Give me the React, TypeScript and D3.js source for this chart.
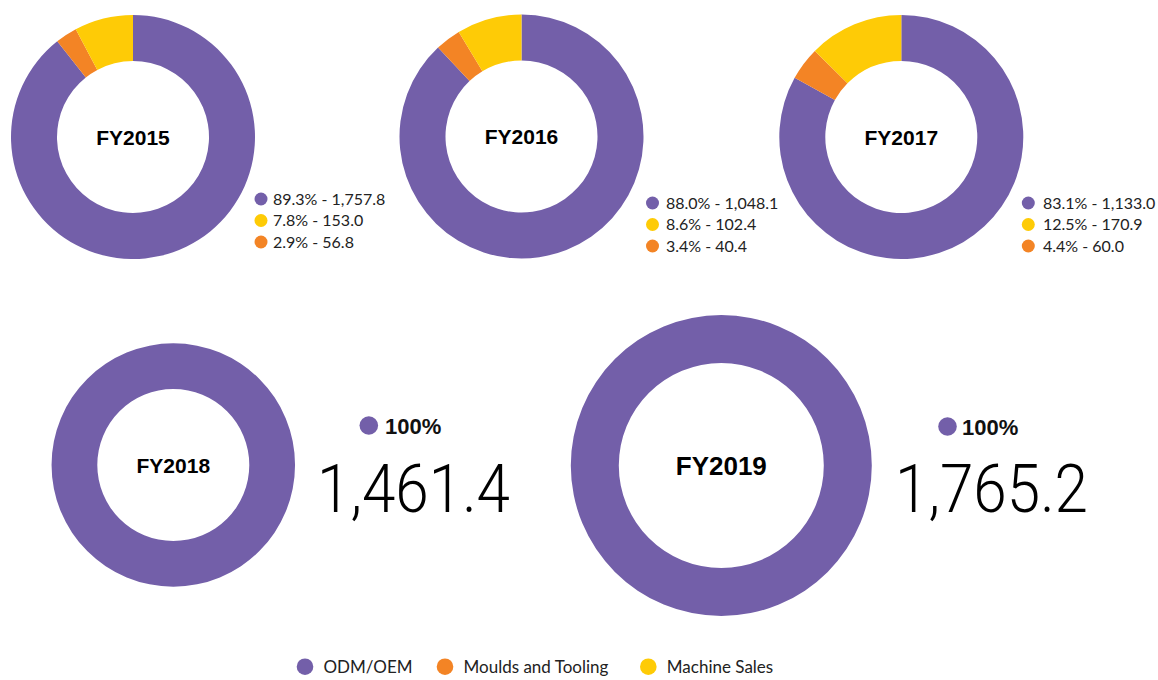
import React from "react";
import * as d3 from "d3";

const segments = ["ODM/OEM", "Moulds and Tooling", "Machine Sales"];
const segmentColors = ["#735FA9", "#F38425", "#FECB06"];

const years = ["FY2015", "FY2016", "FY2017", "FY2018", "FY2019"];
const odmValues = [1757.8, 1048.1, 1133.0, 1461.4, 1765.2];
const mouldsValues = [56.8, 40.4, 60.0, 0, 0];
const machineValues = [153.0, 102.4, 170.9, 0, 0];
const odmPct = ["89.3%", "88.0%", "83.1%", "100%", "100%"];
const mouldsPct = ["2.9%", "3.4%", "4.4%", "", ""];
const machinePct = ["7.8%", "8.6%", "12.5%", "", ""];

// layout (not data)
const layout = [
  { cx: 133, cy: 137, ro: 122, ri: 76, fs: 21, lx: 261, ltx: 273, ly: 199 },
  { cx: 521.5, cy: 136.5, ro: 122, ri: 76, fs: 21, lx: 652.5, ltx: 666, ly: 203 },
  { cx: 901.3, cy: 137, ro: 122, ri: 76, fs: 21, lx: 1028.3, ltx: 1043, ly: 203 },
  { cx: 173.3, cy: 465, ro: 121.7, ri: 76, fs: 21, bx: 368.8, by: 425.5, btx: 385, bigx: 317, bigw: 193 },
  { cx: 721.3, cy: 465.5, ro: 150.5, ri: 102.5, fs: 26, bx: 947.5, by: 426.5, btx: 962, bigx: 895, bigw: 193 },
];

const fmt = d3.format(",.1f");

export default function App() {
  const pie = d3.pie<number>().sort(null).value((d) => d);
  return (
    <svg
      width={1158}
      height={680}
      style={{ position: "absolute", left: 0, top: 0, background: "#fff" }}
      fontFamily="Lato, 'Noto Sans', sans-serif"
    >
      {years.map((y, i) => {
        const L = layout[i];
        const vals = [odmValues[i], mouldsValues[i], machineValues[i]];
        const arcs = pie(vals);
        const arc = d3.arc<d3.PieArcDatum<number>>().innerRadius(L.ri).outerRadius(L.ro);
        return (
          <g key={y}>
            <g transform={`translate(${L.cx},${L.cy})`}>
              {arcs.map((a, j) =>
                a.value > 0 ? <path key={j} d={arc(a) || ""} fill={segmentColors[j]} /> : null
              )}
              <text
                textAnchor="middle"
                y={L.fs * 0.36}
                fontFamily="'Liberation Sans', Arial, sans-serif"
                fontWeight="bold"
                fontSize={L.fs}
                fill="#000"
              >
                {y}
              </text>
            </g>
            {L.lx !== undefined && (
              <g>
                {[
                  [0, odmPct[i], odmValues[i]],
                  [2, machinePct[i], machineValues[i]],
                  [1, mouldsPct[i], mouldsValues[i]],
                ].map((r, k) => (
                  <g key={k}>
                    <circle cx={L.lx} cy={L.ly + k * 21.5} r={6.5} fill={segmentColors[r[0] as number]} />
                    <text x={L.ltx} y={L.ly + k * 21.5 + 5.5} fontSize={16} fill="#222">
                      {`${r[1]} - ${fmt(r[2] as number)}`}
                    </text>
                  </g>
                ))}
              </g>
            )}
            {L.bx !== undefined && (
              <g>
                <circle cx={L.bx} cy={L.by} r={9.3} fill={segmentColors[0]} />
                <text
                  x={L.btx}
                  y={L.by + 8}
                  fontSize={22}
                  fontWeight="bold"
                  fontFamily="'Liberation Sans', Arial, sans-serif"
                  fill="#111"
                >
                  {odmPct[i]}
                </text>
                <text
                  x={L.bigx}
                  y={512}
                  fontSize={66}
                  fontWeight={300}
                  fontFamily="Roboto, Lato, sans-serif"
                  textLength={L.bigw}
                  lengthAdjust="spacingAndGlyphs"
                  fill="#000"
                >
                  {fmt(odmValues[i])}
                </text>
              </g>
            )}
          </g>
        );
      })}
      {segments.map((s, j) => {
        const xs = [305, 445, 648.3];
        return (
          <g key={s}>
            <circle cx={xs[j]} cy={666.7} r={8.3} fill={segmentColors[j]} />
            <text x={xs[j] + 18.5} y={673} fontSize={17} fill="#222">
              {s}
            </text>
          </g>
        );
      })}
    </svg>
  );
}
